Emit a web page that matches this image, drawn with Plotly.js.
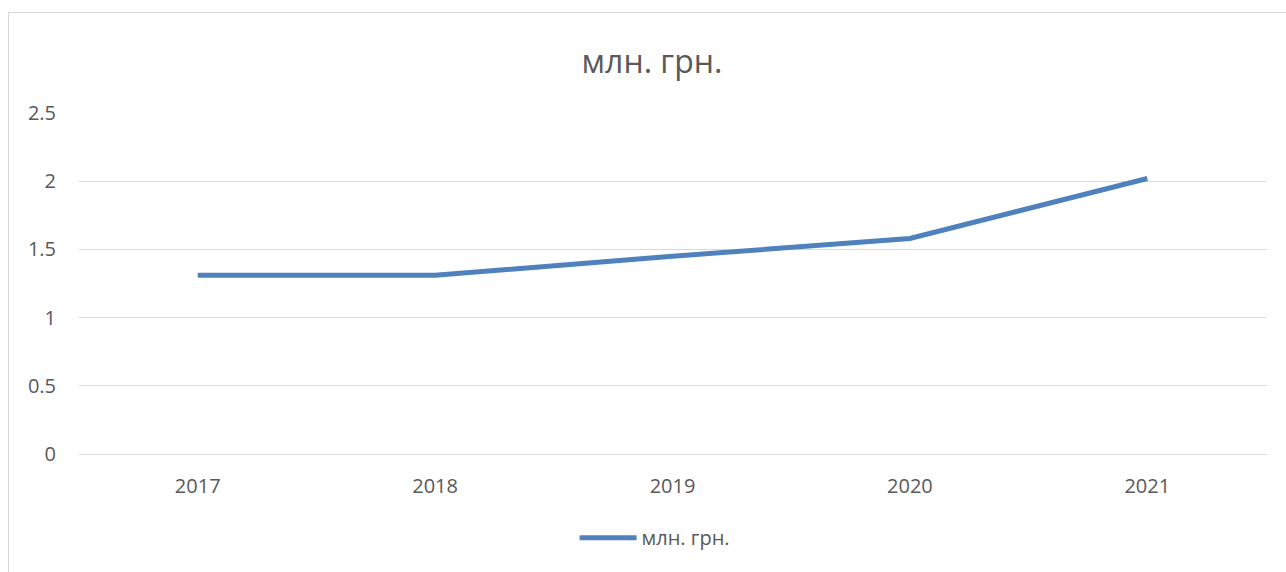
<!DOCTYPE html>
<html>
<head>
<meta charset="utf-8">
<script src="https://cdn.plot.ly/plotly-3.0.1.min.js"></script>
<style>
  html, body { margin:0; padding:0; background:#fff; }
  #chart { position:absolute; left:0; top:0; width:1286px; height:572px; }
  #frame { position:absolute; left:8px; top:12px; width:1290px; height:580px;
           border-left:1.5px solid #d9d9d9; border-top:1.5px solid #d9d9d9; pointer-events:none; }
</style>
</head>
<body>
<div id="chart"></div>
<div id="frame"></div>
<script>
const categories = ['2017', '2018', '2019', '2020', '2021'];
const values = [1.31, 1.31, 1.45, 1.58, 2.02];
const seriesName = 'млн. грн.';
const chartTitle = 'млн. грн.';
const yTicks = [0, 0.5, 1, 1.5, 2, 2.5];
const yTickLabels = ['0', '0.5', '1', '1.5', '2', '2.5'];

const font = 'Open Sans, Liberation Sans, sans-serif';

Plotly.newPlot('chart', [{
  x: categories,
  y: values,
  name: seriesName,
  type: 'scatter',
  mode: 'lines',
  line: { color: '#4f81bd', width: 5, shape: 'linear' },
  hoverinfo: 'x+y'
}], {
  width: 1286,
  height: 572,
  margin: { l: 79, r: 20, t: 113, b: 118, autoexpand: false },
  paper_bgcolor: '#ffffff',
  plot_bgcolor: '#ffffff',
  title: {
    text: chartTitle,
    font: { family: font, size: 32, color: '#595959' },
    x: 0.507, xanchor: 'center',
    y: 0.892, yanchor: 'middle'
  },
  xaxis: {
    type: 'category',
    range: [-0.5, 4.5],
    showgrid: false,
    showline: true,
    linecolor: '#d9d9d9',
    linewidth: 1,
    zeroline: false,
    ticks: '',
    ticklabelstandoff: 14,
    tickfont: { family: font, size: 20, color: '#595959' }
  },
  yaxis: {
    range: [0, 2.5],
    tickvals: yTicks,
    ticktext: yTickLabels,
    showgrid: true,
    gridcolor: '#d9d9d9',
    gridwidth: 1,
    zeroline: false,
    showline: false,
    ticks: '',
    ticklabelstandoff: 22,
    tickfont: { family: font, size: 20, color: '#595959' }
  },
  showlegend: true,
  legend: {
    orientation: 'h',
    xref: 'container', yref: 'container',
    x: 0.509, xanchor: 'center',
    y: 0.06, yanchor: 'middle',
    itemwidth: 57,
    font: { family: font, size: 20, color: '#595959' }
  }
}, { displayModeBar: false, staticPlot: true });
</script>
</body>
</html>
